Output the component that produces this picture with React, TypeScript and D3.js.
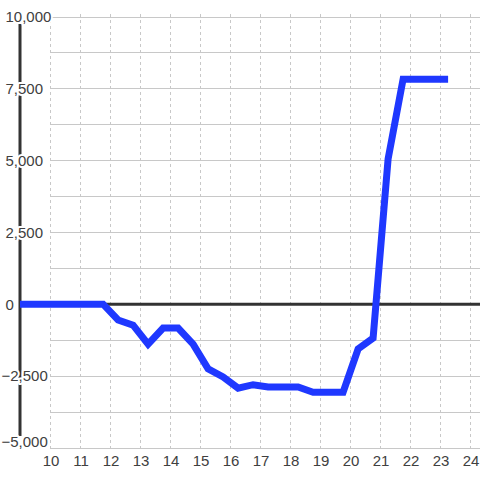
import React from "react";
import * as d3 from "d3";

const hours = [9, 11.77, 12.27, 12.77, 13.27, 13.77, 14.27, 14.77, 15.27, 15.77, 16.27, 16.77, 17.27, 17.77, 18.27, 18.77, 19.27, 19.77, 20.27, 20.77, 21.27, 21.77, 22.27, 22.77, 23.27];
const values = [0, 0, -550, -730, -1390, -830, -830, -1390, -2250, -2530, -2920, -2800, -2880, -2880, -2880, -3060, -3060, -3060, -1560, -1180, 5050, 7820, 7820, 7820, 7820];
const xTicks = [10, 11, 12, 13, 14, 15, 16, 17, 18, 19, 20, 21, 22, 23, 24];
const yTicks = [10000, 7500, 5000, 2500, 0, -2500, -5000];
const yGrid = d3.range(-5000, 10001, 1250);

export default function App() {
  const W = 480, H = 480;
  const x = d3.scaleLinear().domain([9, 24]).range([20, 470]);
  const y = d3.scaleLinear().domain([-5000, 10000]).range([448, 16.5]);
  const data = hours.map((h, i) => [h, values[i]] as [number, number]);
  const line = d3.line<[number, number]>().x(d => x(d[0])).y(d => y(d[1]));
  const fmt = d3.format(",");
  const font = "'Liberation Sans', Arial, sans-serif";
  return (
    <svg width={W} height={H} style={{ position: "absolute", left: 0, top: 0, background: "#fff" }}>
      {yGrid.map(v => (
        <line key={"g" + v} x1={50} x2={480} y1={Math.round(y(v)) + 0.5} y2={Math.round(y(v)) + 0.5} stroke="#c8c8c8" strokeWidth={1} />
      ))}
      {xTicks.map(t => (
        <line key={"v" + t} x1={Math.round(x(t)) + 0.5} x2={Math.round(x(t)) + 0.5} y1={14} y2={448} stroke="#c8c8c8" strokeWidth={1} strokeDasharray="3,3" />
      ))}
      <line x1={20} x2={480} y1={y(0)} y2={y(0)} stroke="#333" strokeWidth={3} />
      <line x1={20} x2={20} y1={24} y2={436} stroke="#333" strokeWidth={3} />
      {yTicks.map(v => (
        <text key={"yl" + v} x={v < 0 ? 1.5 : 5.5} y={v === -5000 ? y(v) - 6 : y(v)} dy="0.36em" fontSize={15} fontFamily={font} fill="#404040"
          stroke="#fff" strokeWidth={4} paintOrder="stroke" strokeLinejoin="round">{fmt(v)}</text>
      ))}
      {xTicks.map(t => (
        <text key={"xl" + t} x={x(t) + 1} y={466} textAnchor="middle" fontSize={15} fontFamily={font} fill="#404040">{t}</text>
      ))}
      <path d={line(data) || ""} fill="none" stroke="#1f38ff" strokeWidth={7} strokeLinejoin="miter" />
    </svg>
  );
}
